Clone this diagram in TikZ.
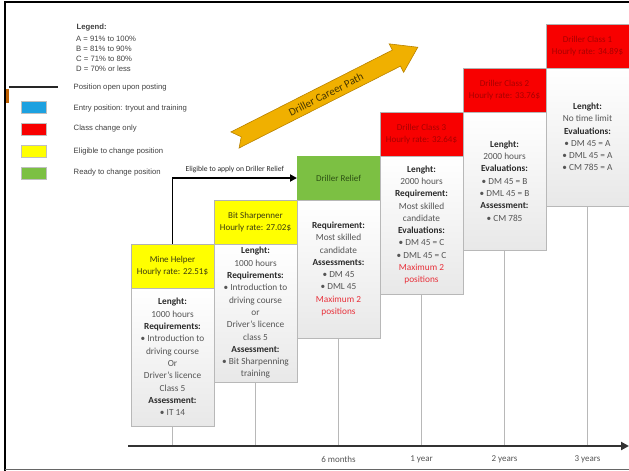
\documentclass[tikz,border=0pt]{standalone}
\usepackage{fontspec}
\setmainfont{Carlito}
\newfontfamily\legendfont{Liberation Sans}
\usetikzlibrary{arrows.meta,shadows}

\definecolor{hdryellow}{HTML}{FFFF00}
\definecolor{hdrred}{HTML}{F80000}
\definecolor{hdrgreen}{HTML}{7CC043}
\definecolor{keyblue}{HTML}{1DA1E0}
\definecolor{txtyellow}{HTML}{3C3C10}
\definecolor{txtred}{HTML}{A80000}
\definecolor{txtgreen}{HTML}{2C5014}
\definecolor{bodytxt}{HTML}{555555}
\definecolor{boldtxt}{HTML}{2A2A2A}
\definecolor{warnred}{HTML}{E8303A}
\definecolor{pathgold}{HTML}{F0B000}
\definecolor{pathedge}{HTML}{B88200}
\definecolor{pathtxt}{HTML}{4A3800}
\definecolor{legtxt}{HTML}{404040}

\newcommand{\lb}[1]{\textcolor{boldtxt}{\textbf{#1}}}
\newcommand{\warn}[1]{\textcolor{warnred}{#1}}

\begin{document}
\begin{tikzpicture}[x=1pt,y=-1pt,
  hdr/.style={minimum width=83pt, minimum height=44pt, inner sep=0pt, outer sep=0pt,
    align=center, draw=black!30, line width=0.5pt,
    font=\fontsize{9}{12}\selectfont},
  bodybox/.style={minimum width=83pt, minimum height=138pt, inner sep=0pt, outer sep=0pt,
    anchor=north, align=center, draw=black!28, line width=0.6pt,
    top color=white, bottom color=black!9,
    drop shadow={shadow xshift=1.2pt, shadow yshift=-1.2pt, opacity=0.22},
    text=bodytxt, font=\fontsize{9.3}{12.3}\selectfont},
  legline/.style={font=\legendfont\fontsize{7.7}{9}\selectfont, text=legtxt, anchor=west, inner sep=0pt},
  keybox/.style={minimum width=25pt, minimum height=12pt, inner sep=0pt, draw=black!25, line width=0.4pt},
  dropline/.style={draw=black!28, line width=1.3pt},
  ticklabel/.style={font=\fontsize{9}{10}\selectfont, text=bodytxt}
]
\useasboundingbox (0,0) rectangle (629,471);

% outer frame
\draw[line width=2.5pt, black] (5,471) -- (5,2) -- (629,2);
\draw[line width=1.4pt, black!60] (5,469.3) -- (629,469.3);
\fill[orange!75!black] (6.3,89) rectangle (8.8,103);

% legend
\node[legline, font=\legendfont\bfseries\fontsize{7.7}{9}\selectfont] (lgt) at (76.5,28) {Legend:};
\node[legline] (lga) at (76,38.5) {A = 91\% to 100\%};
\node[legline] (lgb) at (76,48.5) {B = 81\% to 90\%};
\node[legline] (lgc) at (76,59) {C = 71\% to 80\%};
\node[legline] (lgd) at (76,69) {D = 70\% or less};

\coordinate (kl1) at (9,87);
\coordinate (kl2) at (58,87);
\draw[line width=2pt, black!85] (kl1) -- (kl2);
\node[legline] (k0) at (73.5,88) {Position open upon posting};
\node[keybox, fill=keyblue] (kb) at (34,107) {};
\node[legline] (k1) at (73.5,109) {Entry position: tryout and training};
\node[keybox, fill=hdrred] (kr) at (34,129) {};
\node[legline] (k2) at (73.5,128.5) {Class change only};
\node[keybox, fill=hdryellow] (ky) at (34,151.5) {};
\node[legline] (k3) at (73.5,151.5) {Eligible to change position};
\node[keybox, fill=hdrgreen] (kg) at (34,173.5) {};
\node[legline] (k4) at (73.5,173) {Ready to change position};

% career path arrow
\begin{scope}[shift={(235,140)}, rotate=26.9]
  \filldraw[fill=pathgold, draw=pathedge, line width=0.6pt]
    (0,-9) -- (181,-9) -- (181,-16) -- (205,0) -- (181,16) -- (181,9) -- (0,9) -- (7,0) -- cycle;
\end{scope}
\node[rotate=26.9, text=pathtxt, font=\fontsize{11}{12}\selectfont] (cp) at (326,94.5) {Driller Career Path};

% position headers
\node[hdr, fill=hdryellow, text=txtyellow] (mhh) at (172.5,266) {Mine Helper\\Hourly rate: 22.51\$};
\node[hdr, fill=hdryellow, text=txtyellow] (bsh) at (255.5,222) {Bit Sharpenner\\Hourly rate: 27.02\$};
\node[hdr, fill=hdrgreen, text=txtgreen, draw=none] (drh) at (338.5,178) {Driller Relief};
\node[hdr, fill=hdrred, text=txtred] (c3h) at (421.5,134) {Driller Class 3\\Hourly rate: 32.64\$};
\node[hdr, fill=hdrred, text=txtred] (c2h) at (504.5,90) {Driller Class 2\\Hourly rate: 33.76\$};
\node[hdr, fill=hdrred, text=txtred] (c1h) at (587.5,46) {Driller Class 1\\Hourly rate: 34.89\$};

% position details
\node[bodybox] (mhb) at (mhh.south) {\lb{Lenght:}\\1000 hours\\\lb{Requirements:}\\• Introduction to\\driving course\\Or\\Driver’s licence\\Class 5\\\lb{Assessment:}\\• IT 14};
\node[bodybox] (bsb) at (bsh.south) {\lb{Lenght:}\\1000 hours\\\lb{Requirements:}\\• Introduction to\\driving course\\or\\Driver’s licence\\class 5\\\lb{Assessment:}\\• Bit Sharpenning\\training};
\node[bodybox] (drb) at (drh.south) {\lb{Requirement:}\\Most skilled\\candidate\\\lb{Assessments:}\\• DM 45\\• DML 45\\\warn{Maximum 2}\\\warn{positions}};
\node[bodybox] (c3b) at (c3h.south) {\lb{Lenght:}\\2000 hours\\\lb{Requirement:}\\Most skilled\\candidate\\\lb{Evaluations:}\\• DM 45 = C\\• DML 45 = C\\\warn{Maximum 2}\\\warn{positions}};
\node[bodybox] (c2b) at (c2h.south) {\lb{Lenght:}\\2000 hours\\\lb{Evaluations:}\\• DM 45 = B\\• DML 45 = B\\\lb{Assessment:}\\• CM 785};
\node[bodybox] (c1b) at (c1h.south) {\lb{Lenght:}\\No time limit\\\lb{Evaluations:}\\• DM 45 = A\\• DML 45 = A\\• CM 785 = A};

% timeline
\coordinate (ax0) at (128,446);
\coordinate (ax1) at (629,446);
\coordinate (tmh) at (172.5,446);
\coordinate (tbs) at (255.5,446);
\coordinate (t6m) at (338.5,446);
\coordinate (t1y) at (421.5,446);
\coordinate (t2y) at (504.5,446);
\coordinate (t3y) at (587.5,446);

\draw[dropline] (mhb.south) -- (tmh);
\draw[dropline] (bsb.south) -- (tbs);
\draw[dropline] (drb.south) -- (t6m);
\draw[dropline] (c3b.south) -- (t1y);
\draw[dropline] (c2b.south) -- (t2y);
\draw[dropline] (c1b.south) -- (t3y);

\draw[line width=2.4pt, black!80, -{Triangle[length=8pt,width=8pt]}] (ax0) -- (ax1);

\node[ticklabel] (l6m) at (338.5,459) {6 months};
\node[ticklabel] (l1y) at (421.5,459) {1 year};
\node[ticklabel] (l2y) at (504.5,459) {2 years};
\node[ticklabel] (l3y) at (587.5,459) {3 years};

% promotion link
\draw[line width=1.8pt, black, -{Triangle[length=7pt,width=7pt]}] (mhh.north) |- (drh.west)
  node[pos=0.75, above=0.8pt, font=\fontsize{7.6}{8}\selectfont, text=boldtxt] (elig) {Eligible to apply on Driller Relief};
\end{tikzpicture}
\end{document}
